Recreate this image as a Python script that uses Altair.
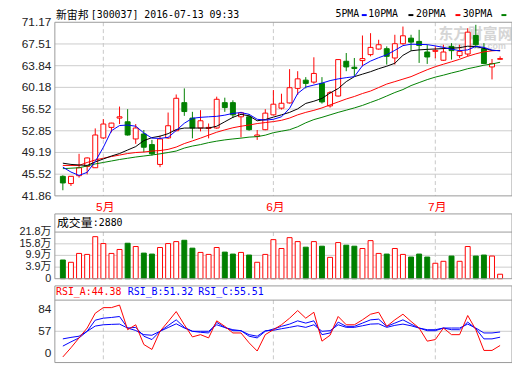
import altair as alt
import pandas as pd

# ---------------- data ----------------
opens = [45.16, 43.94, 45.27, 46.83, 46.61, 51.64, 53.42, 54.99, 54.37, 51.47,
         52.31, 50.52, 47.17, 51.64, 52.86, 57.60, 54.99, 53.32, 53.25, 53.32,
         57.60, 57.60, 55.21, 55.21, 51.91, 53.03, 55.54, 56.67, 57.55, 60.01,
         61.40, 61.07, 60.85, 57.05, 58.72, 64.59, 63.58, 64.70, 65.71, 66.65,
         66.71, 65.14, 67.55, 68.49, 67.94, 66.15, 66.26, 64.76, 67.10, 65.54,
         65.81, 68.94, 66.71, 63.63, 64.92]
highs = [45.33, 45.20, 48.96, 48.35, 53.25, 54.82, 54.20, 56.94, 56.50, 53.99,
         52.98, 51.31, 52.03, 55.93, 58.98, 60.01, 56.05, 56.33, 54.08, 58.61,
         58.44, 58.00, 56.05, 55.66, 52.98, 56.50, 59.73, 59.11, 63.25, 62.91,
         61.91, 65.26, 61.91, 59.56, 64.92, 65.98, 65.14, 68.94, 69.33, 68.22,
         67.10, 69.06, 70.45, 69.06, 69.90, 67.38, 67.10, 67.38, 67.65, 67.38,
         70.17, 70.74, 67.65, 64.97, 65.42]
lows = [42.81, 43.53, 44.94, 45.49, 46.57, 51.47, 52.58, 53.99, 52.03, 50.64,
        49.23, 48.67, 46.71, 51.50, 52.78, 55.37, 51.57, 52.75, 51.57, 53.20,
        56.05, 54.99, 51.74, 52.86, 51.31, 52.95, 55.45, 56.43, 57.45, 58.89,
        60.01, 60.79, 57.44, 56.77, 58.64, 62.91, 62.07, 63.75, 65.42, 66.55,
        64.03, 64.03, 67.38, 66.38, 64.31, 64.14, 65.09, 64.67, 64.87, 65.14,
        65.42, 66.82, 64.14, 61.52, 64.87]
closes = [44.04, 45.16, 46.61, 48.26, 52.14, 53.99, 54.15, 55.21, 52.14, 53.32,
          50.07, 48.96, 51.47, 53.70, 58.34, 56.10, 53.32, 54.54, 53.42, 58.17,
          56.77, 55.54, 55.88, 53.03, 52.14, 55.83, 57.34, 57.50, 60.12, 61.62,
          60.85, 62.53, 57.72, 59.28, 64.87, 63.63, 63.36, 65.04, 66.93, 67.38,
          65.42, 67.55, 68.89, 67.82, 67.27, 65.31, 66.43, 66.15, 66.38, 66.26,
          69.50, 67.38, 64.20, 64.20, 65.04]
vol_wan = [7.55, 6.38, 10.9, 10.4, 19.45, 15.93, 10.9, 12.92, 16.1, 14.42,
           11.07, 10.57, 13.92, 15.93, 16.94, 17.61, 13.59, 11.41, 10.4, 13.92,
           11.58, 10.57, 11.41, 10.07, 6.38, 10.4, 17.94, 13.42, 18.95, 16.94,
           14.09, 16.94, 14.59, 8.89, 16.44, 15.1, 14.59, 13.42, 17.44, 10.9,
           10.57, 13.42, 10.4, 9.06, 10.57, 9.06, 5.88, 6.88, 9.56, 6.88,
           14.42, 9.56, 10.07, 9.56, 0.29]
ma5 = [46.71, 45.88, 45.32, 45.83, 47.67, 50.06, 52.86, 53.73, 53.82, 53.62,
       52.48, 51.61, 51.56, 51.74, 52.90, 54.12, 54.96, 55.12, 55.21, 55.29,
       55.49, 55.79, 55.92, 55.63, 54.79, 54.65, 54.79, 55.21, 56.63, 59.14,
       60.23, 60.57, 60.90, 61.32, 61.61, 61.82, 61.99, 63.83, 64.62, 65.19,
       65.68, 66.43, 67.23, 67.47, 67.43, 67.40, 67.18, 66.93, 66.63, 66.38,
       66.51, 67.10, 66.93, 66.46, 66.35]
ma10 = [47.38, 47.17, 47.08, 47.00, 47.59, 48.09, 48.59, 49.01, 49.60, 50.18,
        51.19, 51.69, 51.94, 52.36, 53.06, 53.31, 53.31, 53.31, 53.31, 53.62,
        54.37, 55.12, 55.63, 55.37, 54.54, 54.74, 55.16, 55.54, 55.96, 56.55,
        57.47, 57.84, 58.31, 59.23, 59.98, 61.15, 61.99, 62.41, 62.83, 63.33,
        63.75, 64.25, 65.59, 66.35, 66.51, 66.60, 66.66, 66.73, 66.80, 66.88,
        67.13, 67.07, 66.77, 66.43, 66.38]
ma20 = [47.00, 47.00, 47.00, 47.50, 47.92, 48.22, 48.50, 48.75, 49.01, 49.18,
        49.26, 49.43, 49.51, 49.71, 50.10, 50.69, 51.14, 51.61, 52.11, 52.61,
        53.00, 53.36, 53.62, 53.82, 54.07, 54.24, 54.40, 54.62, 55.00, 55.54,
        55.96, 56.30, 56.71, 57.22, 57.72, 58.22, 58.64, 59.14, 59.56, 60.15,
        60.74, 61.15, 61.57, 61.99, 62.58, 63.16, 63.67, 64.09, 64.50, 64.92,
        65.43, 65.84, 66.18, 66.35, 66.43]
ma30 = [46.45, 46.53, 46.61, 46.91, 47.25, 47.50, 47.75, 48.00, 48.21, 48.42,
        48.59, 48.76, 48.96, 49.18, 49.43, 49.93, 50.27, 50.52, 50.85, 51.10,
        51.31, 51.47, 51.61, 51.78, 51.86, 52.11, 52.53, 52.78, 53.03, 53.53,
        54.20, 54.74, 55.12, 55.54, 55.96, 56.33, 56.71, 57.13, 57.64, 58.14,
        58.72, 59.31, 59.81, 60.48, 60.99, 61.49, 61.91, 62.24, 62.61, 62.94,
        63.33, 63.61, 63.92, 64.13, 64.42]
rsi_a = [25.93, 37.04, 49.0, 60.94, 78.87, 85.68, 85.68, 88.79, 58.91, 64.89,
         40.99, 35.01, 57.0, 68.71, 80.9, 64.89, 50.19, 52.94, 49.0, 69.67,
         62.98, 54.97, 54.97, 43.02, 33.1, 52.94, 58.91, 64.89, 72.89, 82.1,
         72.89, 80.06, 45.05, 52.22, 74.93, 64.89, 64.89, 70.86, 77.67, 80.06,
         62.98, 70.86, 77.67, 68.95, 60.94, 45.05, 46.96, 60.94, 52.94, 52.94,
         76.12, 58.91, 33.82, 33.82, 39.79]
rsi_b = [39.07, 44.21, 49.0, 57.0, 70.5, 72.89, 73.73, 74.93, 60.94, 61.78,
         51.03, 46.96, 57.0, 63.93, 70.86, 61.78, 57.0, 55.8, 54.97, 67.76,
         61.78, 57.72, 57.72, 51.03, 49.0, 57.0, 59.75, 62.98, 65.72, 69.67,
         66.92, 69.67, 52.94, 54.97, 68.11, 62.98, 62.98, 66.92, 70.86, 71.7,
         62.98, 66.92, 70.86, 65.72, 60.94, 57.72, 57.72, 60.94, 58.91, 58.91,
         68.11, 60.11, 47.8, 47.8, 49.83]
rsi_c = [47.8, 49.59, 51.03, 57.0, 63.33, 64.89, 65.37, 65.72, 60.94, 57.96,
         52.94, 52.22, 57.0, 61.54, 66.08, 60.94, 57.0, 57.0, 57.0, 64.89,
         61.54, 58.91, 57.72, 52.94, 51.03, 57.72, 58.2, 60.11, 61.78, 63.69,
         61.78, 64.89, 57.0, 57.72, 64.89, 61.78, 61.78, 63.69, 65.72, 66.08,
         61.78, 64.17, 65.72, 63.69, 60.94, 58.91, 58.91, 60.94, 60.94, 60.94,
         65.72, 60.94, 54.97, 54.97, 56.16]

price_ticks = [71.17, 67.51, 63.84, 60.18, 56.52, 52.85, 49.19, 45.52, 41.86]
price_labels = ["71.17", "67.51", "63.84", "60.18", "56.52", "52.85", "49.19", "45.52", "41.86"]
vol_ticks = [21.8, 15.8, 9.9, 3.9, -2.0]
vol_labels = ["21.8万", "15.8万", "9.9万", "3.9万", "0"]
rsi_ticks = [84, 57, 31.07]
rsi_labels = ["84", "57", "0"]
month_idx = [5, 26, 46]
month_labels = ["5月", "6月", "7月"]

# ---------------- layout / styling ----------------
W, H = 463.5, 345
X_DOM = [-0.38, 54.86]
PRICE_DOM = [13.716, 71.17]
VOL_DOM = [-44.77, 128.82]
RSI_DOM = [19.12, 431.4]
RED, GREEN, BLUE, BLACK = "#ff0000", "#008000", "#0000ff", "#000000"
GRID, FRAME, DASH = "#cccccc", "#999999", "#c8c8c8"
LATIN = "Liberation Sans, Noto Sans CJK SC, sans-serif"
MONO = "DejaVu Sans Mono, monospace"
CJK = "Noto Sans CJK SC, sans-serif"

xs = alt.Scale(domain=X_DOM, nice=False, zero=False)


def X(f="i"):
    return alt.X(f"{f}:Q", scale=xs, axis=None)


def Y(f, dom):
    return alt.Y(f"{f}:Q", scale=alt.Scale(domain=dom, nice=False, zero=False), axis=None)


n = len(opens)
idx = list(range(n))
up = [c >= o for o, c in zip(opens, closes)]
cd = pd.DataFrame({
    "i": idx, "open": opens, "high": highs, "low": lows, "close": closes,
    "vol": vol_wan, "base": [-2.0] * n,
    "col": [RED if u else GREEN for u in up],
    "fill": ["#ffffff" if u else GREEN for u in up],
})

ma_df = pd.concat([
    pd.DataFrame({"i": idx, "v": s, "k": k, "c": c})
    for s, k, c in [(ma30, "30", GREEN), (ma20, "20", RED), (ma10, "10", BLACK), (ma5, "5", BLUE)]
])
rsi_df = pd.concat([
    pd.DataFrame({"i": idx, "v": s, "k": k, "c": c})
    for s, k, c in [(rsi_c, "C", BLUE), (rsi_b, "B", BLUE), (rsi_a, "A", RED)]
])

one = pd.DataFrame({"a": [0]})
layers = []


def hline(vals, dom, color, width=1):
    return alt.Chart(pd.DataFrame({"v": vals})).mark_rule(color=color, strokeWidth=width).encode(
        y=Y("v", dom), x=alt.value(0), x2=alt.value(W))


def vdash(top, bot, dom):
    d = pd.DataFrame({"i": month_idx, "t": [top] * 3, "b": [bot] * 3})
    return alt.Chart(d).mark_rule(color=DASH, strokeDash=[4, 3]).encode(
        x=X(), y=Y("t", dom), y2="b:Q")


def frame(top, bot, dom):
    d = pd.DataFrame({"t": [top], "b": [bot]})
    return alt.Chart(d).mark_rect(fillOpacity=0, stroke=FRAME, strokeWidth=1).encode(
        x=alt.value(0), x2=alt.value(W), y=Y("t", dom), y2="b:Q")


def ptext(txt, x, y, color=BLACK, font=MONO, size=10, align="left", **kw):
    return alt.Chart(one).mark_text(text=txt, align=align, baseline="middle", font=font,
                                    fontSize=size, color=color, **kw).encode(
        x=alt.value(x), y=alt.value(y))


# grids
layers += [hline(price_ticks[1:-1], PRICE_DOM, GRID),
           hline(vol_ticks[1:-1], VOL_DOM, GRID),
           hline([57], RSI_DOM, GRID)]
layers += [vdash(71.17, 41.86, PRICE_DOM), vdash(21.8, -2.0, VOL_DOM), vdash(94.76, 19.12, RSI_DOM)]

# watermark
layers += [ptext("东方财富网", 389, 11.5, color="#c4c4c4", font=CJK, size=15, fontWeight="bold", opacity=0.7),
           ptext("eastmoney.com", 390, 24.5, color="#c4c4c4", font=LATIN, size=9, fontWeight="bold", opacity=0.7)]

# candles
base = alt.Chart(cd)
layers.append(base.mark_rule(strokeWidth=1).encode(
    x=X(), y=Y("low", PRICE_DOM), y2="high:Q", color=alt.Color("col:N", scale=None)))
layers.append(base.mark_bar(size=5, strokeWidth=1).encode(
    x=X(), y=Y("open", PRICE_DOM), y2="close:Q",
    fill=alt.Fill("fill:N", scale=None), stroke=alt.Stroke("col:N", scale=None)))

# moving averages
layers.append(alt.Chart(ma_df).mark_line(strokeWidth=1).encode(
    x=X(), y=Y("v", PRICE_DOM), detail="k:N", color=alt.Color("c:N", scale=None)))

# volume
layers.append(base.mark_bar(size=5, strokeWidth=1).encode(
    x=X(), y=Y("vol", VOL_DOM), y2="base:Q",
    fill=alt.Fill("fill:N", scale=None), stroke=alt.Stroke("col:N", scale=None)))

# rsi
layers.append(alt.Chart(rsi_df).mark_line(strokeWidth=1).encode(
    x=X(), y=Y("v", RSI_DOM), detail="k:N", color=alt.Color("c:N", scale=None)))

# frames
layers += [frame(71.17, 41.86, PRICE_DOM), frame(31.05, -2.0, VOL_DOM),
           hline([21.8], VOL_DOM, FRAME), frame(111.97, 19.12, RSI_DOM),
           hline([94.76], RSI_DOM, FRAME)]

# axis labels
for vals, labs, dom, fs in [(price_ticks, price_labels, PRICE_DOM, 12),
                            (vol_ticks, vol_labels, VOL_DOM, 11),
                            (rsi_ticks, rsi_labels, RSI_DOM, 12)]:
    layers.append(alt.Chart(pd.DataFrame({"v": vals, "t": labs})).mark_text(
        align="right", baseline="middle", font=LATIN, fontSize=fs, color="#222222").encode(
        x=alt.value(-3.5), y=Y("v", dom), text="t:N"))

layers.append(alt.Chart(pd.DataFrame({"i": month_idx, "t": month_labels})).mark_text(
    align="center", baseline="middle", font=LATIN, fontSize=12, color=RED, dx=2).encode(
    x=X(), y=alt.value(187), text="t:N"))

# header texts
layers += [
    ptext("新宙邦", 1.2, -6.5, font=CJK, size=11),
    ptext("[300037] 2016-07-13 09:33", 36.5, -7.8),
    ptext("5PMA", 284.5, -8.5),
    ptext("10PMA", 317.8, -8.5),
    ptext("20PMA", 366.2, -8.5),
    ptext("30PMA", 413.5, -8.5),
    ptext("成交量", 2.2, 203.3, font=CJK, size=12),
    ptext(":2880", 38.5, 203.3),
    ptext("RSI_A:44.38", 1.2, 274, color=RED),
    ptext("RSI_B:51.32", 74.0, 274, color=BLUE),
    ptext("RSI_C:55.51", 145.5, 274, color=BLUE),
]
for a, b, c in [(311.2, 316.2, BLUE), (358.5, 363.5, BLACK), (406.2, 411.2, RED), (452.8, 457.8, GREEN)]:
    layers.append(alt.Chart(one).mark_rule(color=c, strokeWidth=2).encode(
        x=alt.value(a), x2=alt.value(b), y=alt.value(-7.3)))

chart = alt.layer(*layers).resolve_scale(y="independent").properties(
    width=W, height=H,
    autosize=alt.AutoSizeParams(type="none"),
    padding={"left": 47.5, "top": 12, "right": 0, "bottom": 0},
    background="white",
).configure_view(stroke=None)

chart.save("out.html", embed_options={"renderer": "svg", "actions": False})
